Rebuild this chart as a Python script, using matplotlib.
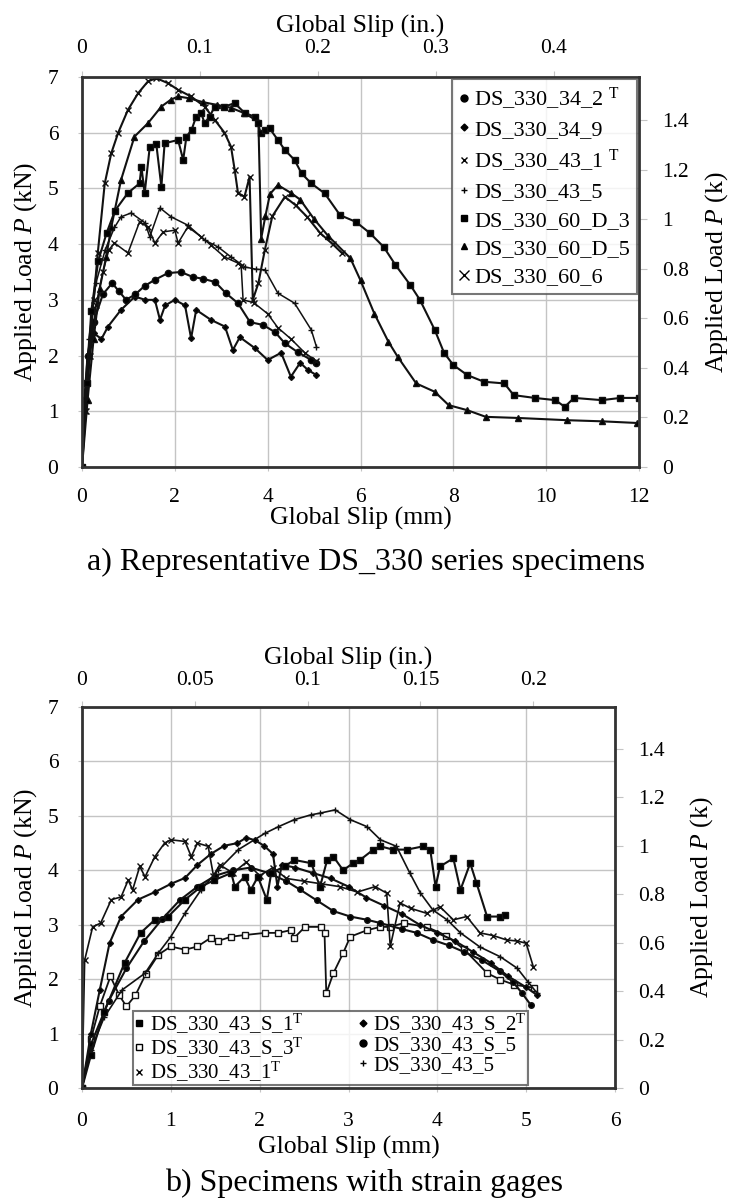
import numpy as np
import matplotlib
matplotlib.use("Agg")
import matplotlib.pyplot as plt
from matplotlib.lines import Line2D
from matplotlib.ticker import FixedLocator, FuncFormatter

plt.rcParams['font.family'] = ['Liberation Serif', 'DejaVu Serif']
plt.rcParams['mathtext.fontset'] = 'custom'
plt.rcParams['mathtext.rm'] = 'Liberation Serif'
plt.rcParams['mathtext.it'] = 'Liberation Serif:italic'

KN_PER_KIP = 4.448
MM_PER_IN = 25.4

# ---- a) DS_330 series: slip (mm) vs load (kN) ----
s34_2_x = [0, 0.05, 0.12, 0.25, 0.45, 0.65, 0.8, 0.95, 1.15, 1.35, 1.57, 1.85, 2.13, 2.39, 2.6,
           2.87, 3.1, 3.36, 3.62, 3.9, 4.16, 4.37, 4.65, 4.94, 5.05]
s34_2_y = [0, 1.2, 2.0, 2.6, 3.1, 3.3, 3.15, 3.0, 3.1, 3.25, 3.36, 3.48, 3.5, 3.41, 3.38,
           3.32, 3.12, 2.94, 2.6, 2.55, 2.42, 2.22, 2.06, 1.92, 1.87]

s34_9_x = [0, 0.05, 0.12, 0.25, 0.42, 0.56, 0.84, 1.14, 1.36, 1.57, 1.68, 1.79, 2.0, 2.22, 2.35,
           2.46, 2.78, 3.08, 3.25, 3.4, 3.73, 4.0, 4.29, 4.5, 4.7, 4.87, 5.05]
s34_9_y = [0, 1.0, 2.0, 2.4, 2.3, 2.52, 2.82, 3.06, 3.0, 3.0, 2.64, 2.9, 3.0, 2.9, 2.31,
           2.82, 2.64, 2.52, 2.1, 2.33, 2.13, 1.92, 2.05, 1.62, 1.87, 1.74, 1.65]

s43_1_x = [0, 0.08, 0.16, 0.25, 0.34, 0.49, 0.63, 0.78, 0.99, 1.21, 1.42, 1.6, 1.85, 2.07, 2.35,
           2.64, 2.86, 3.07, 3.21, 3.29, 3.36, 3.5, 3.61, 3.68, 3.8, 3.94, 4.1, 4.37, 4.6, 4.85,
           5.13, 5.4, 5.6]
s43_1_y = [0, 1.0, 2.0, 3.0, 3.84, 5.09, 5.63, 6.0, 6.41, 6.71, 6.92, 6.98, 6.89, 6.77, 6.65,
           6.47, 6.23, 6.0, 5.75, 5.33, 4.92, 4.85, 5.21, 3.0, 3.3, 3.9, 4.5, 4.85, 4.7, 4.49,
           4.2, 4.0, 3.84]

s43_5_x = [0, 0.06, 0.15, 0.3, 0.5, 0.7, 0.84, 1.06, 1.36, 1.46, 1.68, 1.92, 2.28, 2.65, 2.93,
           3.21, 3.51, 3.75, 3.94, 4.22, 4.58, 4.94, 5.05]
s43_5_y = [0, 1.2, 2.3, 3.3, 3.9, 4.3, 4.49, 4.56, 4.38, 4.13, 4.65, 4.49, 4.34, 4.07, 3.95,
           3.77, 3.59, 3.55, 3.54, 3.12, 2.94, 2.46, 2.16]

s60d3_x = [0, 0.1, 0.2, 0.35, 0.53, 0.71, 0.99, 1.24, 1.28, 1.35, 1.46, 1.6, 1.71, 1.78, 2.07,
           2.18, 2.25, 2.36, 2.46, 2.57, 2.64, 2.75, 2.86, 3.07, 3.29, 3.51, 3.72, 3.79, 3.85,
           3.94, 4.04, 4.22, 4.37, 4.58, 4.73, 4.94, 5.23, 5.56, 5.9, 6.2, 6.5, 6.75, 7.07, 7.28,
           7.6, 7.8, 8.0, 8.3, 8.66, 9.1, 9.3, 9.75, 10.2, 10.4, 10.6, 11.2, 11.6, 12.0]
s60d3_y = [0, 1.5, 2.8, 3.7, 4.2, 4.6, 4.92, 5.09, 5.39, 4.91, 5.75, 5.8, 5.03, 5.81, 5.87,
           5.51, 5.93, 6.05, 6.29, 6.35, 6.17, 6.29, 6.47, 6.47, 6.53, 6.35, 6.29, 6.17, 5.99,
           6.05, 6.08, 5.87, 5.69, 5.51, 5.27, 5.09, 4.91, 4.52, 4.4, 4.2, 3.95, 3.63, 3.27, 3.0,
           2.46, 2.05, 1.83, 1.65, 1.53, 1.5, 1.29, 1.24, 1.2, 1.08, 1.24, 1.2, 1.24, 1.24]

s60d5_x = [0, 0.12, 0.25, 0.38, 0.52, 0.63, 0.84, 1.13, 1.42, 1.71, 1.91, 2.07, 2.3, 2.6, 2.9,
           3.2, 3.5, 3.8, 3.86, 3.95, 4.05, 4.22, 4.5, 4.7, 5.0, 5.3, 5.78, 6.0, 6.3, 6.6, 6.8,
           7.2, 7.6, 7.9, 8.3, 8.7, 9.4, 10.45, 11.2, 11.96]
s60d5_y = [0, 1.2, 2.3, 3.2, 3.77, 4.3, 5.15, 5.93, 6.17, 6.47, 6.59, 6.65, 6.62, 6.55, 6.5,
           6.45, 6.35, 6.2, 4.1, 4.5, 4.9, 5.06, 4.92, 4.8, 4.45, 4.15, 3.75, 3.35, 2.75, 2.25,
           1.98, 1.5, 1.35, 1.11, 1.02, 0.9, 0.88, 0.84, 0.82, 0.79]

s60_6_x = [0, 0.07, 0.18, 0.3, 0.45, 0.58, 0.7, 0.99, 1.24, 1.42, 1.57, 1.75, 2.0, 2.07, 2.28,
           2.57, 2.78, 3.07, 3.36, 3.43, 3.47, 3.7, 4.0, 4.22, 4.5, 4.8, 5.05]
s60_6_y = [0, 1.0, 2.0, 2.9, 3.5, 3.9, 4.02, 3.84, 4.4, 4.31, 4.02, 4.22, 4.25, 4.02, 4.31,
           4.13, 3.98, 3.77, 3.66, 3.6, 3.0, 2.95, 2.75, 2.5, 2.3, 2.05, 1.9]

# ---- b) specimens with strain gages ----
g_s1_x = [0, 0.1, 0.25, 0.48, 0.66, 0.82, 0.97, 1.16, 1.34, 1.49, 1.68, 1.72, 1.83, 1.9, 1.98,
          2.08, 2.13, 2.28, 2.39, 2.58, 2.68, 2.76, 2.83, 2.94, 3.05, 3.13, 3.28, 3.36, 3.5,
          3.66, 3.84, 3.92, 3.98, 4.03, 4.18, 4.26, 4.37, 4.44, 4.56, 4.71, 4.76]
g_s1_y = [0, 0.6, 1.4, 2.3, 2.85, 3.09, 3.15, 3.46, 3.7, 3.82, 3.95, 3.7, 3.88, 3.64, 3.88,
          3.46, 3.95, 4.07, 4.19, 4.13, 3.7, 4.19, 4.25, 4.0, 4.13, 4.19, 4.38, 4.44, 4.38,
          4.38, 4.44, 4.38, 3.7, 4.07, 4.22, 3.64, 4.13, 3.77, 3.15, 3.15, 3.18]

g_s2_x = [0, 0.1, 0.2, 0.31, 0.44, 0.63, 0.82, 1.0, 1.16, 1.3, 1.45, 1.6, 1.75, 1.85, 1.95,
          2.05, 2.15, 2.2, 2.25, 2.4, 2.6, 2.8, 3.0, 3.2, 3.4, 3.6, 3.8, 4.0, 4.2, 4.4, 4.6,
          4.8, 5.0, 5.12]
g_s2_y = [0, 1.0, 1.8, 2.66, 3.15, 3.46, 3.6, 3.75, 3.86, 4.1, 4.3, 4.45, 4.5, 4.6, 4.55,
          4.45, 4.3, 3.7, 4.1, 4.05, 3.95, 3.85, 3.7, 3.5, 3.35, 3.2, 3.0, 2.85, 2.7, 2.5, 2.3,
          2.05, 1.85, 1.71]

g_s3_x = [0, 0.1, 0.2, 0.32, 0.42, 0.5, 0.6, 0.72, 0.86, 1.0, 1.16, 1.3, 1.45, 1.53, 1.68,
          1.83, 2.06, 2.21, 2.35, 2.39, 2.51, 2.69, 2.73, 2.75, 2.83, 2.94, 3.02, 3.21, 3.36,
          3.47, 3.62, 3.88, 4.1, 4.3, 4.56, 4.71, 4.86, 5.09]
g_s3_y = [0, 0.9, 1.5, 2.05, 1.7, 1.5, 1.7, 2.1, 2.45, 2.6, 2.54, 2.6, 2.76, 2.7, 2.78,
          2.81, 2.85, 2.85, 2.9, 2.76, 2.96, 2.96, 2.85, 1.74, 2.11, 2.48, 2.78, 2.9, 2.96,
          2.96, 3.03, 2.96, 2.8, 2.55, 2.11, 1.99, 1.9, 1.84]

g_s5_x = [0, 0.1, 0.3, 0.5, 0.7, 0.9, 1.1, 1.3, 1.5, 1.7, 1.9, 2.1, 2.3, 2.45, 2.64, 2.83,
          3.02, 3.21, 3.36, 3.6, 3.77, 3.95, 4.13, 4.3, 4.5, 4.7, 4.85, 4.95, 5.05]
g_s5_y = [0, 0.8, 1.6, 2.2, 2.7, 3.1, 3.45, 3.7, 3.9, 4.0, 4.05, 3.95, 3.8, 3.65, 3.45, 3.25,
          3.15, 3.09, 3.03, 2.92, 2.85, 2.72, 2.62, 2.5, 2.35, 2.15, 1.95, 1.75, 1.53]

g_43_1_x = [0, 0.03, 0.12, 0.21, 0.33, 0.44, 0.52, 0.57, 0.65, 0.71, 0.82, 0.93, 1.0, 1.16,
            1.23, 1.3, 1.42, 1.48, 1.55, 1.7, 1.85, 2.0, 2.15, 2.3, 2.5, 2.7, 2.9, 3.1, 3.3,
            3.43, 3.47, 3.58, 3.7, 3.88, 4.03, 4.18, 4.33, 4.48, 4.63, 4.78, 4.9, 5.0, 5.08]
g_43_1_y = [0, 2.35, 2.96, 3.03, 3.46, 3.51, 3.82, 3.64, 4.07, 3.88, 4.25, 4.5, 4.56, 4.53,
            4.25, 4.5, 4.44, 3.9, 4.1, 3.95, 4.15, 3.9, 4.05, 3.85, 3.8, 3.75, 3.7, 3.6, 3.7,
            3.58, 2.6, 3.4, 3.3, 3.21, 3.33, 3.09, 3.15, 2.85, 2.8, 2.72, 2.7, 2.66, 2.23]

g_43_5_x = [0, 0.1, 0.25, 0.45, 0.71, 0.86, 1.0, 1.16, 1.34, 1.53, 1.76, 2.06, 2.21, 2.39,
            2.58, 2.68, 2.85, 3.02, 3.21, 3.36, 3.54, 3.69, 3.81, 3.95, 4.11, 4.26, 4.48, 4.71,
            4.9, 5.02, 5.12]
g_43_5_y = [0, 0.7, 1.3, 1.8, 2.11, 2.48, 2.78, 3.21, 3.64, 4.0, 4.38, 4.68, 4.8, 4.93,
            5.02, 5.05, 5.11, 4.93, 4.8, 4.56, 4.44, 3.95, 3.58, 3.27, 3.09, 2.85, 2.59, 2.41,
            2.2, 1.95, 1.75]

W, H = 734, 1204
fig = plt.figure(figsize=(W / 100, H / 100), dpi=100)

SPINE = '#333333'
GRID = '#c4c4c4'
FS_TICK = 15.5
FS_LAB = 18.5
FS_LEG = 16


def frame(ax, xmax, xstep, in_ticks, top_pad, top_lpad, bot_pad, bot_lpad, right_lpad):
    ax.set_xlim(0, xmax)
    ax.set_ylim(0, 7)
    ax.set_xticks(np.arange(0, xmax + 0.01, xstep))
    ax.set_yticks(np.arange(0, 8, 1))
    ax.grid(True, color=GRID, lw=1.0)
    ax.set_axisbelow(True)
    for s in ax.spines.values():
        s.set_color(SPINE)
        s.set_linewidth(2.0)
    ax.tick_params(axis='x', length=3, color=GRID, labelsize=FS_TICK, pad=bot_pad)
    ax.tick_params(axis='y', length=3, color=GRID, labelsize=FS_TICK, pad=14)
    ax.set_xlabel('Global Slip (mm)', fontsize=FS_LAB, labelpad=bot_lpad)
    ax.set_ylabel(r'Applied Load $P$ (kN)', fontsize=FS_LAB, labelpad=6)
    fmt = FuncFormatter(lambda v, p: '%g' % round(v, 3))

    top = ax.secondary_xaxis('top', functions=(lambda v: v / MM_PER_IN,
                                               lambda v: v * MM_PER_IN))
    top.xaxis.set_major_locator(FixedLocator(in_ticks))
    top.xaxis.set_major_formatter(fmt)
    top.tick_params(length=4, color=GRID, labelsize=FS_TICK, pad=top_pad)
    top.spines['top'].set_visible(False)
    top.set_xlabel('Global Slip (in.)', fontsize=FS_LAB, labelpad=top_lpad)

    right = ax.secondary_yaxis('right', functions=(lambda v: v / KN_PER_KIP,
                                                   lambda v: v * KN_PER_KIP))
    right.yaxis.set_major_locator(FixedLocator([0, 0.2, 0.4, 0.6, 0.8, 1.0, 1.2, 1.4]))
    right.yaxis.set_major_formatter(fmt)
    right.tick_params(length=6, color=GRID, labelsize=FS_TICK, pad=11)
    right.spines['right'].set_visible(False)
    right.set_ylabel(r'Applied Load $P$ (k)', fontsize=FS_LAB, labelpad=right_lpad)


def curve(ax, x, y, marker, ms, mfc='k', lw=1.5):
    ax.plot(x, y, color='#111111', lw=lw, marker=marker, ms=ms, mfc=mfc,
            mec='#111111', mew=1.0)


# ---------- a) ----------
ax1 = fig.add_axes([82 / W, 1 - 467 / H, 557 / W, 390 / H])
frame(ax1, 12, 2, [0, 0.1, 0.2, 0.3, 0.4], top_pad=10, top_lpad=4, bot_pad=12,
      bot_lpad=0, right_lpad=10)

curve(ax1, s34_9_x, s34_9_y, 'D', 3)
curve(ax1, s34_2_x, s34_2_y, 'o', 4.5)
curve(ax1, s43_5_x, s43_5_y, '+', 5, lw=1.1)
curve(ax1, s60_6_x, s60_6_y, 'x', 5, lw=1.1)
curve(ax1, s43_1_x, s43_1_y, 'x', 4.5)
curve(ax1, s60d5_x, s60d5_y, '^', 4)
curve(ax1, s60d3_x, s60d3_y, 's', 4.5)

legend_a = [
    ('o', 5, 'k', r'DS_330_34_2 $^{\mathrm{T}}$'),
    ('D', 3.5, 'k', 'DS_330_34_9'),
    ('x', 5, 'k', r'DS_330_43_1 $^{\mathrm{T}}$'),
    ('+', 5, 'k', 'DS_330_43_5'),
    ('s', 5, 'k', 'DS_330_60_D_3'),
    ('^', 5, 'k', 'DS_330_60_D_5'),
    ('x', 7, 'k', 'DS_330_60_6'),
]
handles = [Line2D([], [], ls='none', marker=m, ms=s, mfc=f, mec='k', color='k', mew=1.0)
           for m, s, f, _ in legend_a]
leg = ax1.legend(handles, [t for *_, t in legend_a], loc='upper right',
                 bbox_to_anchor=(1.0, 1.0), borderaxespad=0.1, frameon=True,
                 fancybox=False, fontsize=FS_LEG, handlelength=0.5, handletextpad=0.2,
                 labelspacing=0.35, borderpad=0.3)
leg.get_frame().set_edgecolor('#555555')
leg.get_frame().set_linewidth(1.5)

fig.text(366 / W, 1 - 562 / H, 'a) Representative DS_330 series specimens',
         ha='center', va='center', fontsize=23)

# ---------- b) ----------
ax2 = fig.add_axes([82 / W, 1 - 1088 / H, 533 / W, 381 / H])
frame(ax2, 6, 1, [0, 0.05, 0.1, 0.15, 0.2], top_pad=8, top_lpad=5, bot_pad=14,
      bot_lpad=4, right_lpad=16)

curve(ax2, g_s3_x, g_s3_y, 's', 4, mfc='white', lw=1.3)
curve(ax2, g_s5_x, g_s5_y, 'o', 4)
curve(ax2, g_43_5_x, g_43_5_y, '+', 4, lw=1.2)
curve(ax2, g_43_1_x, g_43_1_y, 'x', 4, lw=1.2)
curve(ax2, g_s2_x, g_s2_y, 'D', 3)
curve(ax2, g_s1_x, g_s1_y, 's', 4.5)

legend_b = [
    ('s', 5, 'k', r'DS_330_43_S_1$^{\mathrm{T}}$'),
    ('s', 5, 'white', r'DS_330_43_S_3$^{\mathrm{T}}$'),
    ('x', 5, 'k', r'DS_330_43_1$^{\mathrm{T}}$'),
    ('D', 3.5, 'k', r'DS_330_43_S_2$^{\mathrm{T}}$'),
    ('o', 5, 'k', 'DS_330_43_S_5'),
    ('+', 5, 'k', 'DS_330_43_5'),
]
handles = [Line2D([], [], ls='none', marker=m, ms=s, mfc=f, mec='k', color='k', mew=1.0)
           for m, s, f, _ in legend_b]
leg = ax2.legend(handles, [t for *_, t in legend_b], loc='lower left',
                 bbox_to_anchor=(0.096, 0.008), borderaxespad=0, ncol=2, frameon=True,
                 fancybox=False, fontsize=15, handlelength=0.5, handletextpad=0.25,
                 labelspacing=0.0, borderpad=0.05, columnspacing=2.6)
leg.get_frame().set_edgecolor('#555555')
leg.get_frame().set_linewidth(1.5)

fig.text(364 / W, 1 - 1183 / H, 'b) Specimens with strain gages',
         ha='center', va='center', fontsize=23)

fig.savefig('out.png', dpi=100)
